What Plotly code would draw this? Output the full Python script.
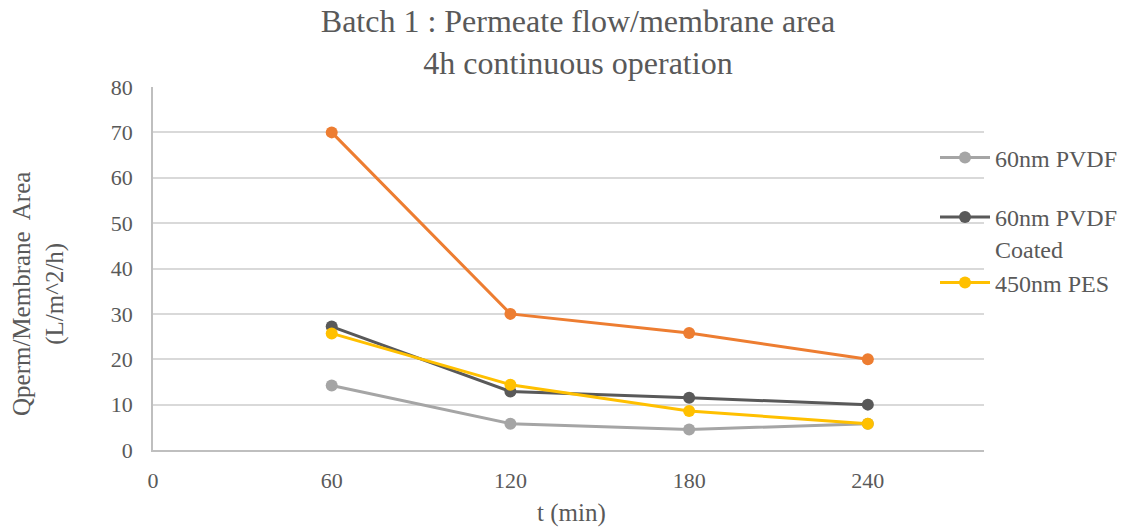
import plotly.graph_objects as go

t_min = [60, 120, 180, 240]
orange_series = [70, 30, 25.8, 20]
pvdf_60 = [14.2, 5.8, 4.5, 5.8]
pvdf_60_coated = [27.2, 12.9, 11.5, 10.0]
pes_450 = [25.7, 14.4, 8.6, 5.8]

x_ticks = [0, 60, 120, 180, 240]
y_ticks = [0, 10, 20, 30, 40, 50, 60, 70, 80]

FONT = "Liberation Serif"
TXT = "#595959"

W, H = 1121, 528
L, R, T, B = 153, 137, 87, 78
PW, PH = W - L - R, H - T - B

def px(x):
    return (x - L) / PW

def py(y):
    return (H - B - y) / PH

fig = go.Figure()

fig.add_trace(go.Scatter(x=t_min, y=orange_series, mode="lines+markers",
                         line=dict(color="#ED7D31", width=3),
                         marker=dict(size=12, color="#ED7D31"),
                         showlegend=False, name=""))
fig.add_trace(go.Scatter(x=t_min, y=pvdf_60, mode="lines+markers",
                         line=dict(color="#A5A5A5", width=3),
                         marker=dict(size=12, color="#A5A5A5"),
                         name="60nm PVDF", legend="legend"))
fig.add_trace(go.Scatter(x=t_min, y=pvdf_60_coated, mode="lines+markers",
                         line=dict(color="#595959", width=3),
                         marker=dict(size=12, color="#595959"),
                         name="60nm PVDF<br>Coated", legend="legend2"))
fig.add_trace(go.Scatter(x=t_min, y=pes_450, mode="lines+markers",
                         line=dict(color="#FFC000", width=3),
                         marker=dict(size=12, color="#FFC000"),
                         name="450nm PES", legend="legend3"))

leg_common = dict(font=dict(family=FONT, size=24, color=TXT),
                  bgcolor="rgba(0,0,0,0)", borderwidth=0,
                  itemwidth=50, xanchor="left", yanchor="middle",
                  valign="top", tracegroupgap=0, itemclick=False)

legx = px(935)

fig.update_layout(
    width=W, height=H,
    margin=dict(l=L, r=R, t=T, b=B, autoexpand=False),
    paper_bgcolor="white", plot_bgcolor="white",
    font=dict(family=FONT, color=TXT),
    title=dict(text="Batch 1 : Permeate flow/membrane area<br>4h continuous operation",
               font=dict(family=FONT, size=32, color=TXT),
               x=578 / W, xref="container", xanchor="center",
               y=1 - 32 / H, yref="container", yanchor="middle"),
    xaxis=dict(range=[0, 279], tickvals=x_ticks, ticktext=[str(v) for v in x_ticks],
               showgrid=False, zeroline=False, showline=True,
               linecolor="#BFBFBF", linewidth=1.5, ticks="",
               ticklabelstandoff=10,
               tickfont=dict(family=FONT, size=22, color=TXT)),
    yaxis=dict(range=[0, 80], tickvals=y_ticks, ticktext=[str(v) for v in y_ticks],
               showgrid=True, gridcolor="#D9D9D9", gridwidth=1.5,
               zeroline=False, showline=True, linecolor="#BFBFBF", linewidth=1.5,
               ticks="", ticklabelstandoff=14,
               tickfont=dict(family=FONT, size=22, color=TXT)),
    legend=dict(x=legx, y=py(158), **leg_common),
    legend2=dict(x=legx, y=py(233), **leg_common),
    legend3=dict(x=legx, y=py(283), **leg_common),
    annotations=[
        dict(text="Qperm/Membrane  Area<br>(L/m^2/h)", textangle=-90,
             xref="paper", yref="paper", x=px(38), y=py(294),
             xanchor="center", yanchor="middle", showarrow=False,
             font=dict(family=FONT, size=25, color=TXT)),
        dict(text="t (min)", xref="paper", yref="paper", x=px(571), y=py(513),
             xanchor="center", yanchor="middle", showarrow=False,
             font=dict(family=FONT, size=25, color=TXT)),
    ],
)

fig.write_html("out.html")
